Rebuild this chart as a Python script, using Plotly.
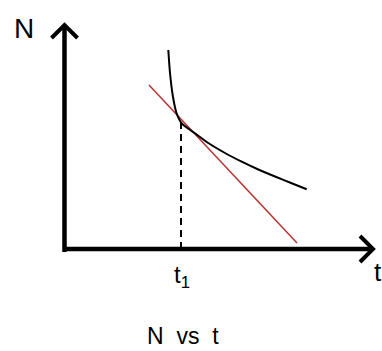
import plotly.graph_objects as go

# Decay curve N(t) and its tangent at t1
curve_t = [10.38, 10.55, 10.85, 11.2, 11.72, 13.05, 14.38, 16.05, 17.72, 19.38, 21.05, 22.72, 24.22]
curve_n = [19.9, 17.6, 15.2, 13.6, 12.57, 11.57, 10.6, 9.6, 8.73, 7.95, 7.25, 6.57, 5.97]

tangent_t = [8.45, 23.25]
tangent_n = [16.4, 0.6]

t1 = 11.65
n_at_t1 = 12.9

# Axis extents
t_axis_end = 30.85
n_axis_end = 22.4
head = 1.3

fig = go.Figure()

# axes with open arrowheads
fig.add_trace(go.Scatter(x=[-0.15, t_axis_end], y=[0, 0], mode="lines",
                         line=dict(color="black", width=4.5), hoverinfo="skip"))
fig.add_trace(go.Scatter(x=[0, 0], y=[-0.3, n_axis_end], mode="lines",
                         line=dict(color="black", width=4.5), hoverinfo="skip"))
fig.add_trace(go.Scatter(x=[t_axis_end - head, t_axis_end, t_axis_end - head],
                         y=[head, 0, -head], mode="lines",
                         line=dict(color="black", width=4), hoverinfo="skip"))
fig.add_trace(go.Scatter(x=[-head, 0, head],
                         y=[n_axis_end - head, n_axis_end, n_axis_end - head], mode="lines",
                         line=dict(color="black", width=4), hoverinfo="skip"))

# dashed drop line at t1
fig.add_trace(go.Scatter(x=[t1, t1], y=[0, n_at_t1], mode="lines",
                         line=dict(color="black", width=2, dash="7px,5px"), hoverinfo="skip"))

# tangent
fig.add_trace(go.Scatter(x=tangent_t, y=tangent_n, mode="lines",
                         line=dict(color="#b8312f", width=1.5), hoverinfo="skip"))

# curve
fig.add_trace(go.Scatter(x=curve_t, y=curve_n, mode="lines",
                         line=dict(color="black", width=2, shape="spline", smoothing=0.6),
                         hoverinfo="skip"))

font = "Liberation Sans, Arial, sans-serif"
fig.add_annotation(x=-4.05, y=22.1, text="N", showarrow=False,
                   font=dict(family=font, size=28, color="black"))
fig.add_annotation(x=31.3, y=-2.3, text="t", showarrow=False,
                   font=dict(family=font, size=26, color="black"))
fig.add_annotation(x=t1 + 0.1, y=-2.7, text="t<sub>1</sub>", showarrow=False,
                   font=dict(family=font, size=24, color="black"))
fig.add_annotation(x=11.8, y=-8.7, text="N&nbsp; vs&nbsp; t", showarrow=False,
                   font=dict(family=font, size=23, color="black"))

fig.update_layout(
    width=382, height=351,
    margin=dict(l=0, r=0, t=0, b=0),
    paper_bgcolor="white", plot_bgcolor="white",
    showlegend=False,
    xaxis=dict(range=[-6.45, 31.75], visible=False, fixedrange=True),
    yaxis=dict(range=[-10.2, 24.9], visible=False, fixedrange=True),
)

fig.write_html("out.html")
